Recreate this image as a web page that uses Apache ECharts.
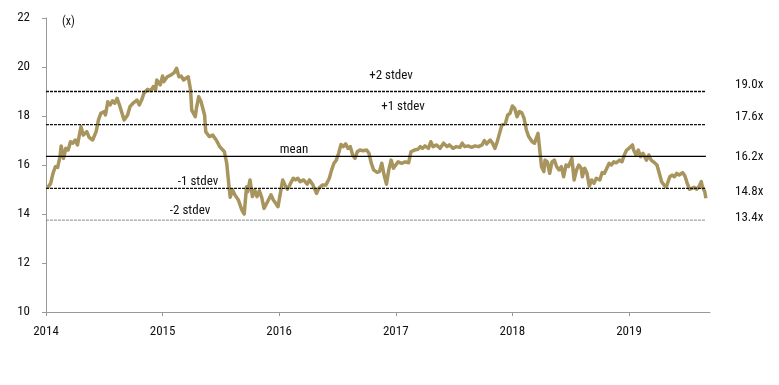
<!DOCTYPE html>
<html>
<head>
<meta charset="utf-8">
<script src="https://cdn.jsdelivr.net/npm/echarts@6/dist/echarts.min.js"></script>
<style>html,body{margin:0;padding:0;background:#fff}#c{width:779px;height:385px}</style>
</head>
<body>
<div id="c"></div>
<script>
// Dates as decimal years
const years = [
2014.01,2014.04,2014.06,2014.08,2014.10,2014.12,2014.13,2014.15,2014.17,2014.19,2014.21,2014.23,2014.25,2014.27,2014.30,2014.32,2014.35,2014.37,2014.40,2014.43,2014.45,2014.47,2014.50,2014.51,2014.53,2014.55,2014.57,2014.59,2014.61,2014.63,2014.67,2014.70,2014.72,2014.75,2014.78,2014.80,2014.82,2014.84,2014.87,2014.90,2014.92,2014.94,2014.95,2014.98,2015.00,2015.01,2015.04,2015.07,2015.10,2015.12,2015.14,2015.16,2015.18,2015.20,2015.22,2015.24,2015.25,2015.28,2015.29,2015.31,2015.33,2015.36,2015.37,2015.40,2015.43,2015.46,2015.49,2015.53,2015.55,2015.57,2015.58,2015.60,2015.62,2015.65,2015.68,2015.70,2015.72,2015.73,2015.75,2015.77,2015.79,2015.81,2015.83,2015.85,2015.87,2015.90,2015.93,2015.95,2015.97,2015.99,
2016.01,2016.03,2016.05,2016.07,2016.09,2016.12,2016.14,2016.16,2016.18,2016.21,2016.24,2016.26,2016.29,2016.32,2016.34,2016.37,2016.40,2016.43,2016.45,2016.47,2016.49,2016.51,2016.53,2016.55,2016.57,2016.59,2016.61,2016.63,2016.65,2016.67,2016.69,2016.72,2016.75,2016.77,2016.79,2016.81,2016.84,2016.86,2016.88,2016.90,2016.92,2016.94,2016.96,2016.98,2017.00,2017.02,2017.05,2017.08,2017.11,2017.13,2017.16,2017.19,2017.21,2017.23,2017.25,2017.28,2017.30,2017.32,2017.35,2017.38,2017.41,2017.44,2017.46,2017.49,2017.52,2017.55,2017.57,2017.59,2017.62,2017.65,2017.68,2017.71,2017.74,2017.76,2017.78,2017.81,2017.83,2017.85,2017.87,2017.89,2017.91,2017.94,2017.96,2017.98,
2018.00,2018.02,2018.04,2018.06,2018.08,2018.10,2018.12,2018.14,2018.17,2018.19,2018.21,2018.22,2018.235,2018.25,2018.27,2018.28,2018.30,2018.32,2018.34,2018.36,2018.38,2018.40,2018.42,2018.44,2018.46,2018.48,2018.51,2018.53,2018.55,2018.57,2018.59,2018.60,2018.62,2018.64,2018.66,2018.68,2018.70,2018.72,2018.75,2018.77,2018.79,2018.81,2018.83,2018.85,2018.87,2018.89,2018.92,2018.94,2018.96,2018.98,
2019.00,2019.03,2019.04,2019.06,2019.08,2019.10,2019.12,2019.15,2019.17,2019.19,2019.21,2019.24,2019.26,2019.28,2019.30,2019.32,2019.35,2019.37,2019.39,2019.41,2019.43,2019.46,2019.48,2019.50,2019.52,2019.54,2019.56,2019.58,2019.60,2019.62,2019.63,2019.65,2019.66
];
// Forward P/E multiple (x)
const pe = [
15.05,15.25,15.66,15.93,15.90,16.34,16.78,16.27,16.68,16.61,16.95,16.89,17.02,16.82,17.56,17.22,17.36,17.13,17.02,17.36,17.84,18.11,18.18,18.04,18.58,18.45,18.62,18.52,18.72,18.45,17.84,18.04,18.38,18.54,18.65,18.45,18.65,18.93,19.09,19.03,19.20,19.06,19.47,19.27,19.63,19.40,19.60,19.67,19.77,19.95,19.60,19.63,19.47,19.54,19.60,19.06,18.24,17.97,18.31,18.79,18.58,18.04,17.36,17.16,17.22,17.02,16.75,16.54,16.07,15.11,14.68,14.98,14.78,14.57,14.16,14.00,15.11,14.91,15.39,14.71,14.98,14.71,14.95,14.68,14.23,14.50,14.78,14.57,14.44,14.30,
14.84,15.39,15.18,15.01,15.18,15.46,15.39,15.46,15.32,15.39,15.22,15.39,15.18,14.84,15.05,15.18,15.18,15.46,15.80,16.07,16.20,16.48,16.84,16.75,16.86,16.68,16.75,16.41,16.27,16.54,16.61,16.58,16.61,16.48,16.07,15.80,15.70,15.73,16.07,15.59,15.22,15.80,16.20,15.87,16.00,16.13,16.07,16.13,16.09,16.54,16.61,16.64,16.75,16.68,16.78,16.68,16.95,16.75,16.82,16.68,16.89,16.75,16.82,16.68,16.75,16.72,16.89,16.75,16.78,16.72,16.78,16.75,16.82,17.00,16.86,17.02,16.89,16.68,16.95,17.29,17.63,17.70,18.04,18.11,
18.41,18.31,17.97,18.18,18.14,17.91,17.43,17.16,16.95,16.89,17.16,17.29,16.60,15.93,15.73,16.20,16.13,15.66,16.13,16.20,15.93,15.80,15.93,15.52,16.00,15.93,16.27,15.39,15.80,16.00,15.87,15.52,15.87,15.66,15.14,15.39,15.25,15.46,15.39,15.69,15.66,15.87,16.07,16.00,16.13,16.09,16.20,16.13,16.41,16.61,
16.68,16.82,16.61,16.41,16.61,16.34,16.48,16.20,16.41,16.20,16.13,16.00,15.66,15.32,15.18,15.11,15.52,15.59,15.52,15.66,15.59,15.69,15.55,15.25,15.01,15.05,15.09,15.01,15.11,15.32,15.11,14.91,14.64
];
// Reference bands (drawn levels) and their text
const bandValues = [19.0, 17.65, 16.35, 15.05, 13.75];
const bandNames = ['+2 stdev', '+1 stdev', 'mean', '-1 stdev', '-2 stdev'];
const bandTags = ['19.0x', '17.6x', '16.2x', '14.8x', '13.4x'];
const yTicks = [10, 12, 14, 16, 18, 20, 22];
const xTicks = [2014, 2015, 2016, 2017, 2018, 2019];

const FONT = '"Roboto Condensed", "Liberation Sans Narrow", Roboto, sans-serif';
const chart = echarts.init(document.getElementById('c'), null, {renderer: 'canvas'});

const xStart = years[0] - 0.01;
const xEnd = years[years.length - 1];
const bandStyles = [
  {color: '#111', width: 1.3, type: [3, 1]},
  {color: '#111', width: 1.3, type: [3, 1]},
  {color: '#000', width: 1.2, type: 'solid'},
  {color: '#111', width: 1.3, type: [3, 1]},
  {color: '#888', width: 1, type: [3, 1]}
];

const series = [{
  type: 'line',
  data: years.map((y, i) => [y, pe[i]]),
  showSymbol: false,
  symbol: 'none',
  lineStyle: {color: '#A8955E', width: 3.5, join: 'round'},
  z: 2
}];
bandValues.forEach((v, i) => {
  series.push({
    type: 'line',
    data: [[xStart, v], [xEnd, v]],
    symbol: 'none',
    lineStyle: bandStyles[i],
    silent: true,
    z: 3
  });
});

const bandLabelPos = [[391, 76], [403, 107], [294, 150], [198, 182], [190, 211]];
const tagY = [85, 117, 157, 192, 218];
const graphics = [{
  type: 'text', left: 62, top: 16,
  style: {text: '(x)', font: '12px ' + FONT, fill: '#111'}
}];
bandNames.forEach((t, i) => {
  graphics.push({
    type: 'text', x: bandLabelPos[i][0], y: bandLabelPos[i][1],
    style: {text: t, font: '13px ' + FONT, fill: '#111', align: 'center', verticalAlign: 'middle'}
  });
});
bandTags.forEach((t, i) => {
  graphics.push({
    type: 'text', x: 735, y: tagY[i],
    style: {text: t, font: '13px ' + FONT, fill: '#111', align: 'left', verticalAlign: 'middle'}
  });
});

chart.setOption({
  animation: false,
  grid: {left: 46, right: 69, top: 18, bottom: 73, containLabel: false},
  xAxis: {
    type: 'value', min: xTicks[0], max: 2019.695, interval: 1,
    axisLine: {show: true, lineStyle: {color: '#999', width: 1}},
    axisTick: {show: true, length: 4, lineStyle: {color: '#999'}},
    axisLabel: {color: '#111', fontSize: 13, fontFamily: FONT, margin: 13,
      formatter: v => xTicks.indexOf(Math.round(v)) >= 0 && Math.abs(v - Math.round(v)) < 1e-6 ? String(Math.round(v)) : '',
      showMaxLabel: false},
    splitLine: {show: false}
  },
  yAxis: {
    type: 'value', min: yTicks[0], max: yTicks[yTicks.length - 1], interval: 2,
    axisLine: {show: true, lineStyle: {color: '#999', width: 1}},
    axisTick: {show: true, length: 4, lineStyle: {color: '#999'}},
    axisLabel: {color: '#111', fontSize: 13, fontFamily: FONT, margin: 16},
    splitLine: {show: false}
  },
  series: series,
  graphic: graphics
});
</script>
</body>
</html>
